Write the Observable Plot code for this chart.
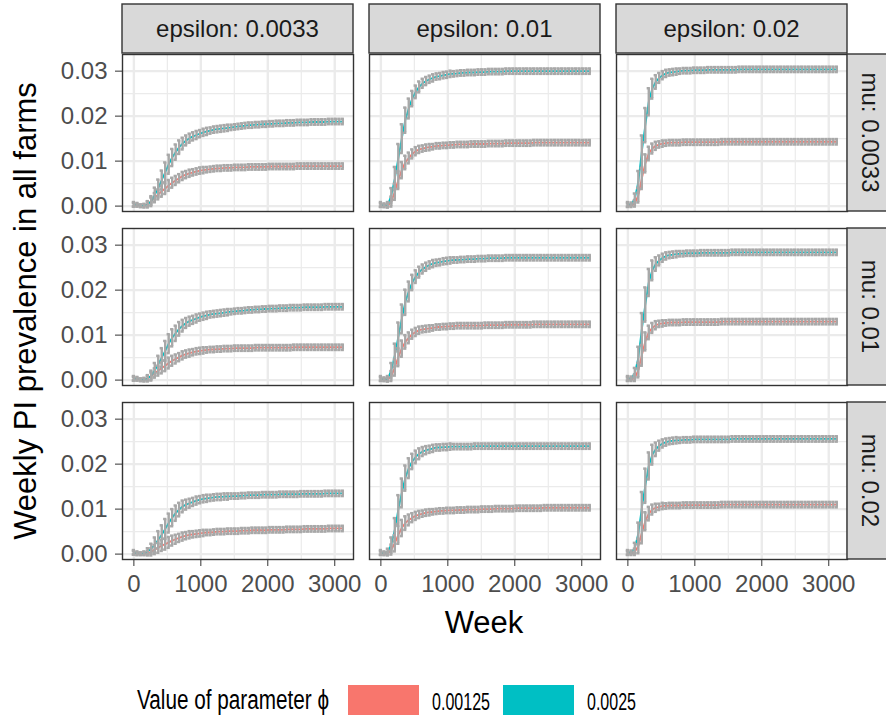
<!DOCTYPE html>
<html><head><meta charset="utf-8">
<script src="https://cdn.jsdelivr.net/npm/d3@7"></script>
<script src="https://cdn.jsdelivr.net/npm/@observablehq/plot@0.6"></script>
<style>
body{margin:0;background:#fff;}
#chart{position:relative;width:886px;height:717px;overflow:hidden;}
svg{display:block}
</style></head><body><div id="chart"></div>
<script>
// ---------- categories ----------
const epsilons = ["0.0033", "0.01", "0.02"];
const mus = ["0.0033", "0.01", "0.02"];
const phis = ["0.00125", "0.0025"];
const xTicks = [0, 1000, 2000, 3000];
const xMinor = [500, 1500, 2500];
const yTicks = [0, 0.01, 0.02, 0.03];
const yMinor = [0.005, 0.015, 0.025];
const SCALE = 1e-4; // values below are prevalence x 10^-4

const weeks = [0,52,104,156,208,260,312,364,416,468,520,572,624,676,728,780,832,884,936,988,
 1040,1092,1144,1196,1248,1300,1352,1404,1456,1508,1560,1612,1664,1716,1768,1820,1872,1924,1976,2028,
 2080,2132,2184,2236,2288,2340,2392,2444,2496,2548,2600,2652,2704,2756,2808,2860,2912,2964,3016,3068,3120];

// ---------- epsilon 0.0033 ----------
const teal_e1_m1 = [4,3,1,1,4,11,25,40,58,75, 93,108,120,131,139,146,151,155,158,161, 164,166,168,170,171,172,173,174,175,176, 177,178,179,180,180,181,181,182,182,183, 183,184,184,184,185,185,185,186,186,186, 186,187,187,187,187,187,188,188,188,188, 188];
const red_e1_m1 = [3,2,0,1,5,11,19,26,33,39, 46,52,57,62,67,70,73,75,77,79, 80,81,82,83,84,84,85,85,85,86, 86,86,86,87,87,87,87,87,87,88, 88,88,88,88,88,88,88,89,89,89, 89,89,89,89,89,89,89,89,89,89, 89];
const teal_e1_m2 = [4,3,1,1,4,10,22,35,50,65, 81,94,104,114,121,127,131,134,137,140, 142,144,146,147,148,149,150,151,152,153, 154,154,155,156,156,157,157,158,158,159, 159,159,160,160,160,161,161,161,161,162, 162,162,162,162,162,163,163,163,163,163, 163];
const red_e1_m2 = [3,2,0,1,4,9,16,21,27,32, 38,43,47,51,55,58,60,62,64,65, 66,67,68,68,69,69,70,70,70,71, 71,71,71,71,71,72,72,72,72,72, 72,72,72,72,72,72,73,73,73,73, 73,73,73,73,73,73,73,73,73,73, 73];
const teal_e1_m3 = [4,2,1,2,6,12,21,32,43,56, 69,81,91,99,106,110,113,116,119,121, 123,124,125,126,127,127,128,128,129,129, 129,130,130,131,131,131,131,132,132,132, 132,132,133,133,133,133,133,133,134,134, 134,134,134,134,134,135,135,135,135,135, 135];
const red_e1_m3 = [3,1,0,1,2,5,10,14,19,22, 26,30,33,36,39,41,43,44,45,46, 47,48,48,49,50,50,50,51,51,51, 51,52,52,52,53,53,53,53,53,54, 54,54,54,54,55,55,55,55,55,56, 56,56,56,56,56,56,57,57,57,57, 57];
// ---------- epsilon 0.01 ----------
const teal_e2_m1 = [4,2,3,24,61,106,150,191,217,239, 254,265,273,278,282,285,288,289,291,292, 294,294,295,296,296,297,297,297,298,298, 298,299,299,299,299,299,300,300,300,300, 300,300,300,300,300,300,300,300,300,300, 300,300,300,300,300,300,300,300,300,300, 300];
const red_e2_m1 = [2,1,1,10,32,58,80,97,107,116, 122,126,128,130,131,132,134,134,135,135, 136,136,137,137,137,137,138,138,138,138, 138,139,139,139,139,139,140,140,140,140, 140,140,140,140,141,141,141,141,141,141, 141,141,141,141,141,141,141,141,141,141, 141];
const teal_e2_m2 = [4,2,3,22,55,96,136,173,197,217, 230,240,247,252,256,259,261,262,264,265, 266,267,267,268,268,269,269,269,270,270, 270,271,271,271,271,271,272,272,272,272, 272,272,272,272,272,272,272,272,272,272, 272,272,272,272,272,272,272,272,272,272, 272];
const red_e2_m2 = [2,1,1,9,28,51,70,85,94,102, 107,111,113,114,115,116,118,118,119,119, 120,120,121,121,121,121,121,121,121,121, 122,122,122,122,122,122,123,123,123,123, 123,123,123,123,124,124,124,124,124,124, 124,124,124,124,124,124,124,124,124,124, 124];
const teal_e2_m3 = [4,2,6,21,54,99,136,169,191,206, 216,223,228,231,233,235,237,237,238,238, 239,239,239,239,239,239,239,240,240,240, 240,240,240,240,240,240,240,240,240,240, 240,240,240,240,240,240,240,240,240,240, 240,240,240,240,240,240,240,240,240,240, 240];
const red_e2_m3 = [2,1,1,10,24,43,58,69,76,81, 85,88,90,92,93,94,95,96,96,97, 97,97,98,98,98,99,99,99,99,100, 100,100,100,101,101,101,101,101,101,102, 102,102,102,102,102,102,102,103,103,103, 103,103,103,103,103,103,103,103,103,103, 103];
// ---------- epsilon 0.02 ----------
const teal_e3_m1 = [4,4,17,54,121,180,232,261,276,285, 291,295,297,298,299,300,301,301,301,302, 302,302,302,303,303,303,303,303,303,303, 303,303,304,304,304,304,304,304,304,304, 304,304,304,304,304,304,304,304,304,304, 304,304,304,304,304,304,304,304,304,304, 304];
const red_e3_m1 = [2,1,6,24,61,95,117,128,134,137, 139,140,141,141,141,141,142,142,142,142, 142,142,142,142,142,142,142,143,143,143, 143,143,143,143,143,143,143,143,143,143, 143,143,143,143,143,143,143,143,143,143, 143,143,143,143,143,143,143,143,143,143, 143];
const teal_e3_m2 = [4,4,16,50,113,168,217,244,258,266, 272,276,278,279,280,281,281,282,282,282, 282,283,283,283,283,283,283,283,283,283, 284,284,284,284,284,284,284,284,284,284, 284,284,284,284,284,284,284,284,284,284, 284,284,284,284,284,284,284,284,284,284, 284];
const red_e3_m2 = [2,1,5,22,55,86,106,116,122,125, 126,127,128,128,128,128,129,129,129,129, 129,129,129,129,129,129,129,130,130,130, 130,130,130,130,130,130,130,130,130,130, 130,130,130,130,130,130,130,130,130,130, 130,130,130,130,130,130,130,130,130,130, 130];
const teal_e3_m3 = [4,4,14,46,102,152,196,221,233,241, 246,249,251,252,253,253,254,254,254,255, 255,255,255,255,255,255,255,255,255,255, 256,256,256,256,256,256,256,256,256,256, 256,256,256,256,256,256,256,256,256,256, 256,256,256,256,256,256,256,256,256,256, 256];
const red_e3_m3 = [2,1,5,18,47,73,90,99,103,105, 107,107,108,108,108,108,109,109,109,109, 109,109,109,109,109,109,109,110,110,110, 110,110,110,110,110,110,110,110,110,110, 110,110,110,110,110,110,110,110,110,110, 110,110,110,110,110,110,110,110,110,110, 110];

// ---------- error-bar half lengths (x 10^-4) ----------
const errTeal_e1 = [5,4,3,4,7,11,16,19,21,22, 21,19,17,15,13,11,10,9,9,8, 8,8,7,7,7,7,7,7,6,6, 6,6,6,6,6,6,6,6,6,6, 6,6,6,6,6,6,6,6,6,6, 6,6,6,6,6,6,6,6,6,6, 6];
const errRed_e1 = [4,3,2,3,5,8,10,11,12,12, 12,11,10,9,9,8,8,7,7,7, 7,6,6,6,6,6,6,6,6,6, 6,6,6,6,6,6,6,6,6,6, 6,6,6,6,6,6,6,6,6,6, 6,6,6,6,6,6,6,6,6,6, 6];
const errTeal_e2 = [5,4,6,16,26,32,32,28,22,17, 14,12,10,9,8,8,7,7,7,7, 7,6,6,6,6,6,6,6,6,6, 6,6,6,6,6,6,6,6,6,6, 6,6,6,6,6,6,6,6,6,6, 6,6,6,6,6,6,6,6,6,6, 6];
const errRed_e2 = [4,3,4,11,18,20,18,15,12,10, 9,8,7,7,7,6,6,6,6,6, 6,6,6,6,6,6,6,6,6,6, 6,6,6,6,6,6,6,6,6,6, 6,6,6,6,6,6,6,6,6,6, 6,6,6,6,6,6,6,6,6,6, 6];
const errTeal_e3 = [5,4,11,24,36,38,30,22,15,11, 9,8,7,7,7,6,6,6,6,6, 6,6,6,6,6,6,6,6,6,6, 6,6,6,6,6,6,6,6,6,6, 6,6,6,6,6,6,6,6,6,6, 6,6,6,6,6,6,6,6,6,6, 6];
const errRed_e3 = [4,3,7,16,23,20,15,11,9,7, 7,6,6,6,6,6,6,6,6,6, 6,6,6,6,6,6,6,6,6,6, 6,6,6,6,6,6,6,6,6,6, 6,6,6,6,6,6,6,6,6,6, 6,6,6,6,6,6,6,6,6,6, 6];

const seriesList = [
  ["0.0033","0.0033","0.00125",red_e1_m1,errRed_e1], ["0.0033","0.0033","0.0025",teal_e1_m1,errTeal_e1],
  ["0.0033","0.01","0.00125",red_e1_m2,errRed_e1],   ["0.0033","0.01","0.0025",teal_e1_m2,errTeal_e1],
  ["0.0033","0.02","0.00125",red_e1_m3,errRed_e1],   ["0.0033","0.02","0.0025",teal_e1_m3,errTeal_e1],
  ["0.01","0.0033","0.00125",red_e2_m1,errRed_e2],   ["0.01","0.0033","0.0025",teal_e2_m1,errTeal_e2],
  ["0.01","0.01","0.00125",red_e2_m2,errRed_e2],     ["0.01","0.01","0.0025",teal_e2_m2,errTeal_e2],
  ["0.01","0.02","0.00125",red_e2_m3,errRed_e2],     ["0.01","0.02","0.0025",teal_e2_m3,errTeal_e2],
  ["0.02","0.0033","0.00125",red_e3_m1,errRed_e3],   ["0.02","0.0033","0.0025",teal_e3_m1,errTeal_e3],
  ["0.02","0.01","0.00125",red_e3_m2,errRed_e3],     ["0.02","0.01","0.0025",teal_e3_m2,errTeal_e3],
  ["0.02","0.02","0.00125",red_e3_m3,errRed_e3],     ["0.02","0.02","0.0025",teal_e3_m3,errTeal_e3]
];
const rows = [];
for (const [eps, mu, phi, vals, errs] of seriesList) {
  vals.forEach((v, i) => rows.push({
    week: weeks[i], eps, mu, phi,
    value: v * SCALE, lo: (v - errs[i]) * SCALE, hi: (v + errs[i]) * SCALE
  }));
}

const FONT = "'Liberation Sans', Arial, Helvetica, sans-serif";
const H = 650;
const CAP = 24; // half width of error-bar caps, in weeks
const GREY = "#A8A8A8";

const plot = Plot.plot({
  width: 886, height: H,
  marginLeft: 121, marginRight: 38, marginTop: 53, marginBottom: H - 561,
  style: {fontFamily: FONT, background: "transparent", overflow: "visible"},
  fx: {domain: epsilons, paddingInner: 0.065, paddingOuter: 0, axis: null, label: null},
  fy: {domain: mus, paddingInner: 0.097, paddingOuter: 0, axis: null, label: null},
  x: {domain: [-170, 3280], label: null},
  y: {domain: [-0.0012, 0.0337], label: null},
  color: {domain: phis, range: ["#F8766D", "#00BFC4"]},
  marks: [
    Plot.ruleX(xMinor, {stroke: "#EBEBEB", strokeWidth: 1.2}),
    Plot.ruleY(yMinor, {stroke: "#EBEBEB", strokeWidth: 1.2}),
    Plot.ruleX(xTicks, {stroke: "#EBEBEB", strokeWidth: 2.4}),
    Plot.ruleY(yTicks, {stroke: "#EBEBEB", strokeWidth: 2.4}),
    Plot.line(rows, {x: "week", y: "value", z: "phi", stroke: "phi", fx: "eps", fy: "mu", strokeWidth: 1.8}),
    Plot.ruleX(rows, {x: "week", y1: "lo", y2: "hi", fx: "eps", fy: "mu", stroke: GREY, strokeWidth: 2.4}),
    Plot.ruleY(rows, {y: "lo", x1: d => d.week - CAP, x2: d => d.week + CAP, fx: "eps", fy: "mu", stroke: GREY, strokeWidth: 2.5}),
    Plot.ruleY(rows, {y: "hi", x1: d => d.week - CAP, x2: d => d.week + CAP, fx: "eps", fy: "mu", stroke: GREY, strokeWidth: 2.5}),
    Plot.frame({stroke: "#333333", strokeWidth: 1.4}),
    Plot.axisX(xTicks, {anchor: "bottom", facetAnchor: "bottom", tickSize: 7, tickPadding: 8, fontSize: 24,
      tickFormat: d => String(d), stroke: "#333333", fill: "#4D4D4D", label: null}),
    Plot.axisY(yTicks, {anchor: "left", facetAnchor: "left", tickSize: 7, tickPadding: 8, fontSize: 24,
      tickFormat: d3.format(".2f"), stroke: "#333333", fill: "#4D4D4D", label: null})
  ]
});

document.getElementById("chart").appendChild(plot);

// ---------- strips and axis titles ----------
const svg = d3.select(plot);
const sfx = plot.scale("fx"), sfy = plot.scale("fy");
const bwx = sfx.bandwidth, bwy = sfy.bandwidth;
const stripG = svg.append("g");
epsilons.forEach(e => {
  const x0 = sfx.apply(e);
  stripG.append("rect").attr("x", x0).attr("y", 4).attr("width", bwx).attr("height", 53 - 4)
    .attr("fill", "#D9D9D9").attr("stroke", "#333333").attr("stroke-width", 1.4);
  stripG.append("text").attr("x", x0 + bwx / 2).attr("y", 28.5).attr("text-anchor", "middle")
    .attr("dominant-baseline", "central").attr("font-size", 24).attr("fill", "#1A1A1A")
    .attr("font-family", FONT).text("epsilon: " + e);
});
const rightX = sfx.apply(epsilons[2]) + bwx;
mus.forEach(m => {
  const y0 = sfy.apply(m);
  stripG.append("rect").attr("x", rightX).attr("y", y0).attr("width", 50).attr("height", bwy)
    .attr("fill", "#D9D9D9").attr("stroke", "#333333").attr("stroke-width", 1.4);
  stripG.append("text").attr("transform", `translate(${rightX + 23},${y0 + bwy / 2}) rotate(90)`)
    .attr("text-anchor", "middle").attr("dominant-baseline", "central").attr("font-size", 24)
    .attr("fill", "#1A1A1A").attr("font-family", FONT).text("mu: " + m);
});
svg.append("text").attr("x", (121 + rightX) / 2).attr("y", 633).attr("text-anchor", "middle")
  .attr("font-size", 31).attr("fill", "#000").attr("font-family", FONT).text("Week");
svg.append("text").attr("transform", "translate(36,311) rotate(-90)").attr("text-anchor", "middle")
  .attr("font-size", 31).attr("fill", "#000").attr("font-family", FONT).text("Weekly PI prevalence in all farms");

// ---------- legend (below the plot) ----------
const leg = d3.select("#chart").append("svg").attr("width", 886).attr("height", 717 - H);
const colorScale = plot.scale("color");
leg.append("text").attr("x", 137).attr("y", 50).attr("dominant-baseline", "central")
  .attr("font-size", 27).attr("font-family", FONT).attr("fill", "#000")
  .attr("textLength", 192).attr("lengthAdjust", "spacingAndGlyphs").text("Value of parameter ϕ");
const keyX = [348, 503], labX = [432, 587], labW = [58, 49];
phis.forEach((p, i) => {
  leg.append("rect").attr("x", keyX[i]).attr("y", 35).attr("width", 71).attr("height", 30)
    .attr("fill", colorScale.apply(p));
  leg.append("text").attr("x", labX[i]).attr("y", 51).attr("dominant-baseline", "central")
    .attr("font-size", 24).attr("font-family", FONT).attr("fill", "#000")
    .attr("textLength", labW[i]).attr("lengthAdjust", "spacingAndGlyphs").text(p);
});
</script></body></html>
